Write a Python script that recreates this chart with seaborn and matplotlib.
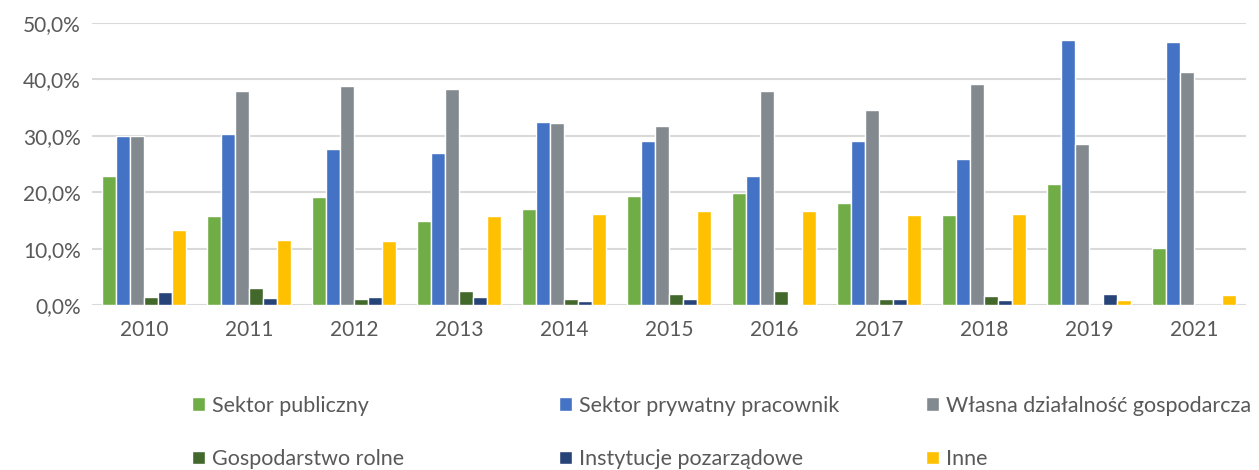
import matplotlib
matplotlib.use("Agg")
import matplotlib.pyplot as plt
import pandas as pd
import seaborn as sns

years = ["2010", "2011", "2012", "2013", "2014", "2015", "2016", "2017", "2018", "2019", "2021"]
series = ["Sektor publiczny", "Sektor prywatny pracownik", "Własna działalność gospodarcza",
          "Gospodarstwo rolne", "Instytucje pozarządowe", "Inne"]

sektor_publiczny = [22.8, 15.7, 19.2, 14.9, 17.0, 19.4, 19.8, 18.1, 15.9, 21.4, 10.1]
sektor_prywatny = [30.0, 30.4, 27.7, 26.9, 32.5, 29.1, 22.8, 29.1, 25.9, 47.0, 46.7]
wlasna_dzialalnosc = [30.0, 38.0, 38.9, 38.3, 32.2, 31.7, 38.0, 34.5, 39.2, 28.6, 41.4]
gospodarstwo_rolne = [1.5, 3.1, 1.1, 2.5, 1.1, 1.9, 2.4, 1.0, 1.6, 0.0, 0.0]
instytucje = [2.3, 1.2, 1.5, 1.5, 0.8, 1.0, 0.2, 1.0, 0.9, 2.0, 0.0]
inne = [13.3, 11.5, 11.4, 15.7, 16.1, 16.6, 16.6, 16.0, 16.2, 0.9, 1.8]

colors = ["#70AD47", "#4472C4", "#82898F", "#43682B", "#264478", "#FFC000"]

values = [sektor_publiczny, sektor_prywatny, wlasna_dzialalnosc, gospodarstwo_rolne, instytucje, inne]
rows = []
for name, vals in zip(series, values):
    for y, v in zip(years, vals):
        rows.append({"rok": y, "seria": name, "wartosc": v})
df = pd.DataFrame(rows)

sns.set_style("white")
plt.rcParams["font.family"] = ["Lato", "DejaVu Sans"]

fig = plt.figure(figsize=(12.59, 4.70), dpi=100)
ax = fig.add_axes([0.073, 0.351, 0.917, 0.600])

sns.barplot(data=df, x="rok", y="wartosc", hue="seria", hue_order=series, order=years,
            palette=colors, saturation=1, width=0.8, edgecolor="white", linewidth=1, ax=ax)

ax.set_ylim(0, 50)
ax.set_yticks([0, 10, 20, 30, 40, 50])
ax.set_yticklabels(["%d,0%%" % t for t in [0, 10, 20, 30, 40, 50]])
ax.set_xlim(-0.5, len(years) - 0.5)
ax.yaxis.grid(True, color="#D9D9D9", linewidth=1.5)
ax.set_axisbelow(True)
ax.set_xlabel("")
ax.set_ylabel("")
for s in ["top", "right", "left", "bottom"]:
    ax.spines[s].set_visible(False)
ax.tick_params(axis="both", length=0, labelsize=15, colors="#595959")
ax.tick_params(axis="x", pad=11)
ax.tick_params(axis="y", pad=8)

handles, labels = ax.get_legend_handles_labels()
ax.get_legend().remove()

# Excel-like legend: three fixed columns, two rows
col_x = [0.1525, 0.444, 0.7355]
for j, x in enumerate(col_x):
    fig.legend([handles[j], handles[j + 3]], [labels[j], labels[j + 3]],
               loc="center left", bbox_to_anchor=(x, 0.080), frameon=False,
               fontsize=15.5, labelcolor="#595959", handlelength=0.6, handleheight=0.6,
               handletextpad=0.33, labelspacing=1.55, borderpad=0, borderaxespad=0)

fig.savefig("out.png", dpi=100)
